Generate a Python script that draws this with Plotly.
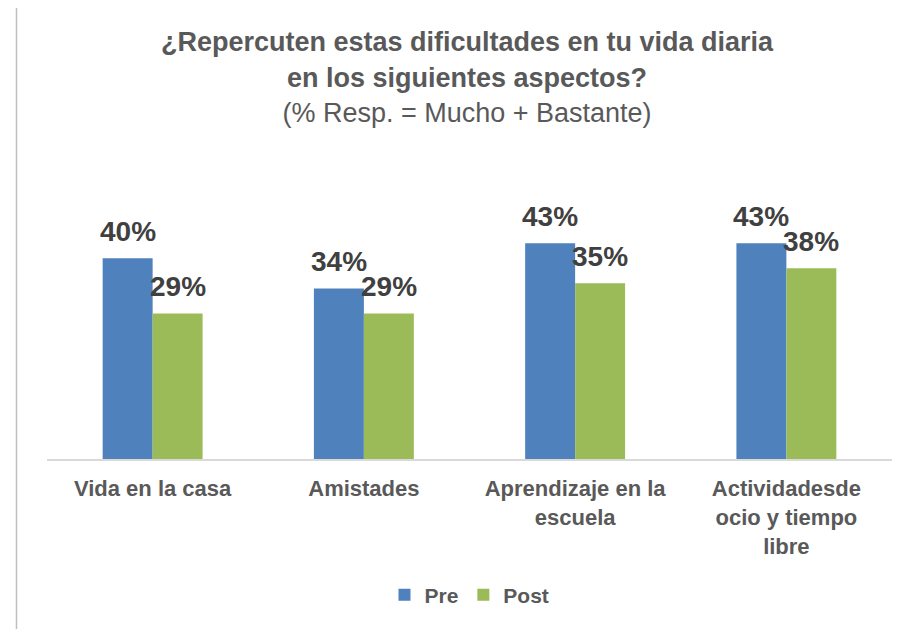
import plotly.graph_objects as go

categories = ["Vida en la casa", "Amistades", "Aprendizaje en la escuela",
              "Actividadesde ocio y tiempo libre"]
tick_labels = ["<b>Vida en la casa</b>", "<b>Amistades</b>",
               "<b>Aprendizaje en la<br>escuela</b>",
               "<b>Actividadesde<br>ocio y tiempo<br>libre</b>"]
pre_values = [40, 34, 43, 43]
post_values = [29, 29, 35, 38]

BLUE = "#4F81BD"
GREEN = "#9BBB59"
FONT = "Liberation Sans, Arial, sans-serif"

fig = go.Figure()
fig.add_trace(go.Bar(x=categories, y=pre_values, name="<b>Pre</b>",
                     marker=dict(color=BLUE, line=dict(width=0))))
fig.add_trace(go.Bar(x=categories, y=post_values, name="<b>Post</b>",
                     marker=dict(color=GREEN, line=dict(width=0))))

# data labels sit well above the bars, as in the original
for values, shift in ((pre_values, -25), (post_values, 25)):
    for cat, v in zip(categories, values):
        fig.add_annotation(x=cat, y=v, xref="x", yref="y", text=f"<b>{v}%</b>",
                           showarrow=False, xshift=shift, yshift=9,
                           yanchor="bottom",
                           font=dict(family=FONT, size=28, color="#404040"))

title_text = ("<b>¿Repercuten estas dificultades en tu vida diaria</b><br>"
              "<b>en los siguientes aspectos?</b><br>"
              "(% Resp. = Mucho + Bastante)")

# page body adds an 8px margin, so the plot area is shifted up/left to compensate
fig.update_layout(
    width=918, height=629,
    paper_bgcolor="white", plot_bgcolor="white",
    margin=dict(l=39, r=34, t=172, b=178),
    barmode="group", bargap=0.527, bargroupgap=0,
    title=dict(text=title_text, x=0.5, xanchor="center", y=0.931, yanchor="top",
               font=dict(family=FONT, size=27, color="#595959")),
    xaxis=dict(tickmode="array", tickvals=categories, ticktext=tick_labels,
               showline=True, linecolor="#D9D9D9", linewidth=2,
               showgrid=False, ticks="", zeroline=False, ticklabelstandoff=9,
               tickfont=dict(family=FONT, size=22, color="#595959")),
    yaxis=dict(range=[0, 55.6], visible=False, showgrid=False, zeroline=False),
    legend=dict(orientation="h", x=0.5, xanchor="center", y=-0.4875,
                yanchor="middle",
                font=dict(family=FONT, size=21, color="#595959")),
    shapes=[dict(type="rect", xref="paper", yref="paper",
                 x0=-0.0361, x1=1.1, y0=-0.8, y1=1.8,
                 line=dict(color="#BFBFBF", width=1.5), layer="below")],
)

fig.write_html("out.html")
